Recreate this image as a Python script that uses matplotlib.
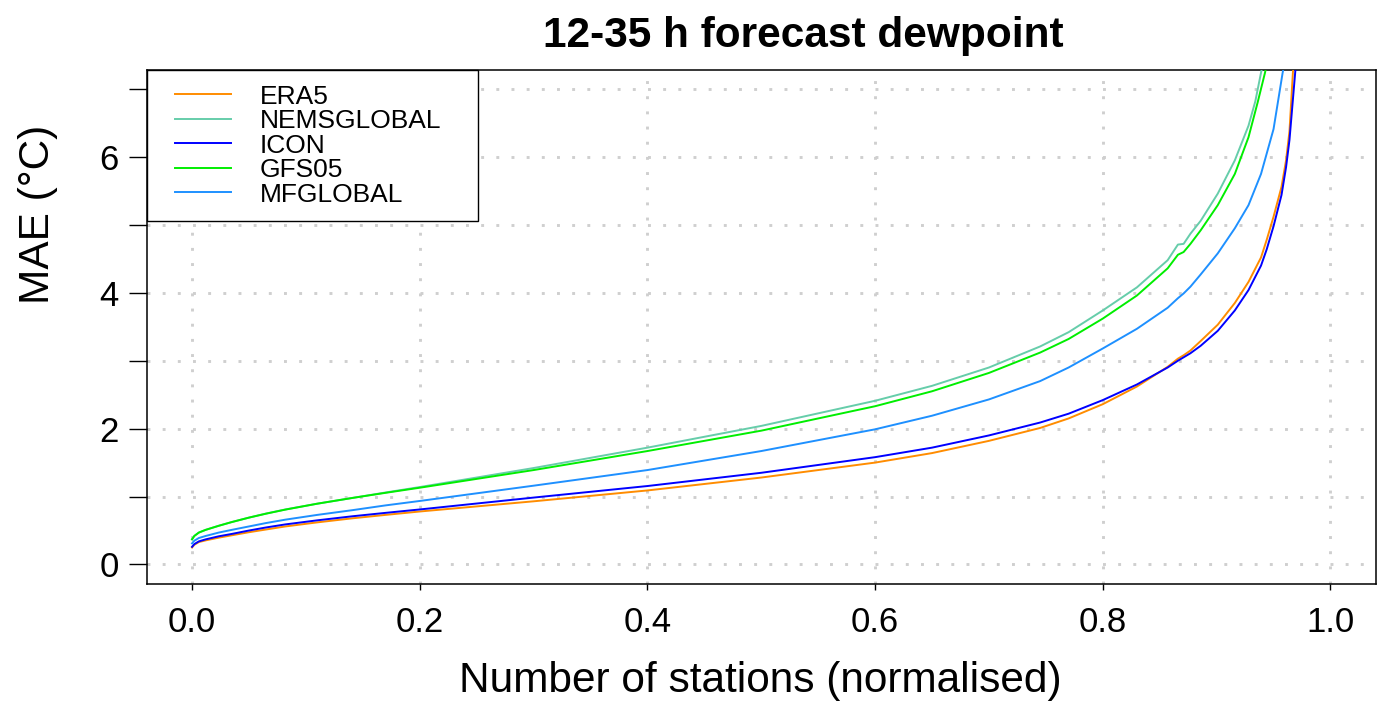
import numpy as np
import matplotlib.pyplot as plt
from matplotlib.lines import Line2D
from matplotlib.legend_handler import HandlerLine2D

plt.rcParams['font.family'] = ['Liberation Sans', 'DejaVu Sans']

# sorted station MAE, x = normalised station count
x_body = [0.0, 0.002, 0.006, 0.012, 0.0235, 0.035, 0.05, 0.065, 0.082, 0.11,
          0.141, 0.17, 0.2, 0.3, 0.4, 0.5, 0.6, 0.65, 0.7, 0.745, 0.77, 0.8,
          0.83, 0.857, 0.866, 0.871, 0.877, 0.886, 0.901, 0.916, 0.928]

era5_x = x_body + [0.939, 0.944, 0.95, 0.957, 0.961, 0.964, 0.967, 0.969]
era5_y = [0.25, 0.29, 0.33, 0.355, 0.395, 0.43, 0.475, 0.515, 0.56, 0.62,
          0.68, 0.73, 0.78, 0.93, 1.09, 1.28, 1.50, 1.64, 1.82, 2.01, 2.15, 2.36,
          2.62, 2.91, 3.03, 3.08, 3.15, 3.29, 3.53, 3.85, 4.16,
          4.52, 4.78, 5.12, 5.56, 5.95, 6.38, 7.24, 7.6]

nems_x = x_body + [0.934, 0.939, 0.944]
nems_y = [0.37, 0.42, 0.47, 0.51, 0.57, 0.625, 0.69, 0.75, 0.81, 0.895,
          0.98, 1.06, 1.14, 1.42, 1.72, 2.04, 2.41, 2.63, 2.90, 3.21, 3.42, 3.74,
          4.08, 4.48, 4.71, 4.72, 4.87, 5.06, 5.46, 5.95, 6.46,
          6.82, 7.24, 7.6]

icon_x = x_body + [0.939, 0.944, 0.95, 0.957, 0.961, 0.964, 0.969, 0.971]
icon_y = [0.26, 0.30, 0.34, 0.37, 0.415, 0.45, 0.50, 0.545, 0.59, 0.65,
          0.71, 0.76, 0.81, 0.985, 1.155, 1.35, 1.58, 1.72, 1.90, 2.09, 2.22, 2.42,
          2.65, 2.90, 3.0, 3.05, 3.11, 3.22, 3.44, 3.74, 4.04,
          4.40, 4.64, 4.98, 5.44, 5.85, 6.25, 7.24, 7.6]

gfs_x = x_body + [0.936, 0.9425, 0.947]
gfs_y = [0.37, 0.42, 0.47, 0.51, 0.57, 0.625, 0.69, 0.748, 0.808, 0.895,
         0.98, 1.055, 1.13, 1.39, 1.67, 1.97, 2.33, 2.55, 2.82, 3.12, 3.32, 3.62,
         3.96, 4.36, 4.56, 4.60, 4.72, 4.92, 5.29, 5.75, 6.29,
         6.8, 7.24, 7.6]

mf_x = x_body + [0.939, 0.95, 0.958, 0.962]
mf_y = [0.31, 0.35, 0.39, 0.42, 0.47, 0.51, 0.56, 0.61, 0.66, 0.73,
        0.80, 0.87, 0.935, 1.16, 1.39, 1.67, 1.99, 2.19, 2.43, 2.70, 2.90, 3.18,
        3.47, 3.78, 3.92, 3.99, 4.09, 4.27, 4.58, 4.95, 5.29,
        5.75, 6.41, 7.24, 7.6]

names = ['ERA5', 'NEMSGLOBAL', 'ICON', 'GFS05', 'MFGLOBAL']
colors = ['#FF8C00', '#66CDAA', '#0000FF', '#00EE00', '#1E90FF']
series = [(era5_x, era5_y), (nems_x, nems_y), (icon_x, icon_y),
          (gfs_x, gfs_y), (mf_x, mf_y)]

xticks = [0.0, 0.2, 0.4, 0.6, 0.8, 1.0]
yticks = [0, 1, 2, 3, 4, 5, 6, 7]

fig = plt.figure(figsize=(13.89, 7.01), dpi=100)
ax = fig.add_axes([146.5 / 1389, 117.5 / 701, 1229.5 / 1389, 513.5 / 701])

for (xs, ys), name, col in zip(series, names, colors):
    ax.plot(xs, ys, color=col, lw=1.4, label=name, zorder=3)

ax.set_xlim(-0.04, 1.04)
ax.set_ylim(-0.28, 7.28)
ax.set_xticks(xticks)
ax.set_xticklabels(['%.1f' % v for v in xticks])
ax.set_yticks(yticks)
ax.set_yticklabels([str(v) if v % 2 == 0 else '' for v in yticks])
ax.tick_params(axis='y', length=13, width=1, pad=7, labelsize=25)
ax.tick_params(axis='x', length=4.5, width=1, pad=12, labelsize=25)
ax.grid(True, color='#cfcfcf', lw=2.1, linestyle=(0, (1.0, 4.2)), zorder=0)
ax.set_axisbelow(True)
for s in ax.spines.values():
    s.set_linewidth(1.1)

fs = 19
leg = ax.legend(loc='upper left', bbox_to_anchor=(0, 0, 331.5 / 1229.5, 1),
                mode='expand', borderaxespad=0, fontsize=fs,
                handlelength=2.67, handletextpad=1.06, borderpad=0.55,
                labelspacing=0.02, fancybox=False, framealpha=1,
                edgecolor='black',
                handler_map={Line2D: HandlerLine2D(xpad=0.545)})
leg.get_frame().set_linewidth(1.0)
leg.set_zorder(5)

fig.text(803 / 1389, 1 - 47 / 701, '12-35 h forecast dewpoint', ha='center',
         va='baseline', fontsize=30.5, fontweight='bold')
fig.text(760 / 1389, 1 - 692 / 701, 'Number of stations (normalised)',
         ha='center', va='baseline', fontsize=30.5)
fig.text(38 / 1389, 1 - 214 / 701, 'MAE (°C)', rotation=90, ha='center',
         va='center', fontsize=30.5)

fig.savefig('out.png', dpi=100)
